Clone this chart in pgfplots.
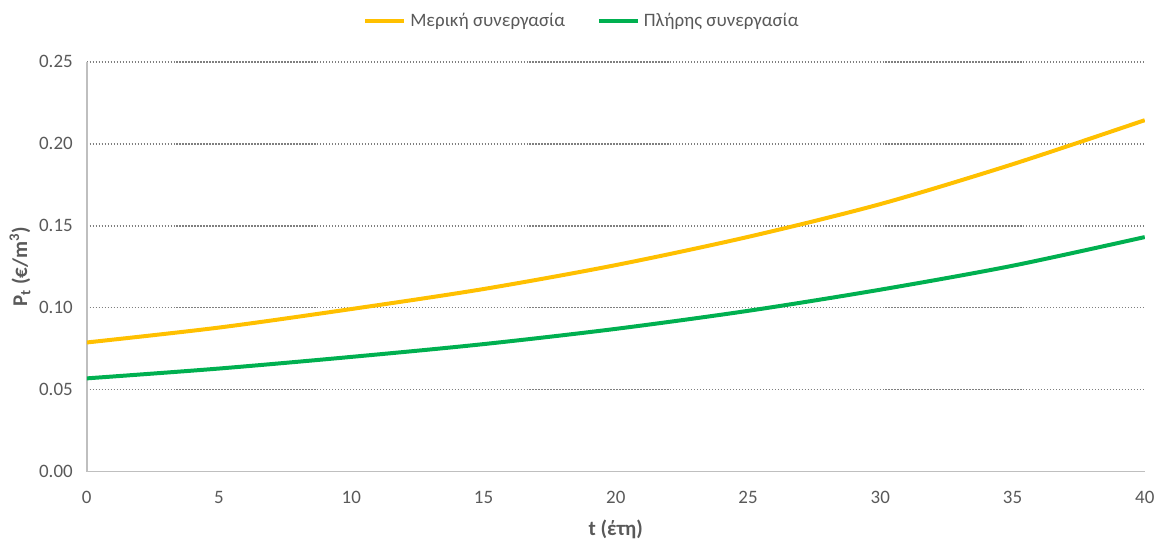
\documentclass[border=0pt]{standalone}
\usepackage{fontspec}
\setmainfont{Carlito}
\usepackage{pgfplots}
\pgfplotsset{compat=1.18}

\definecolor{partial}{HTML}{FFC000}
\definecolor{full}{HTML}{00B050}
\definecolor{ticktext}{HTML}{595959}
\definecolor{axisgray}{HTML}{BFBFBF}
\definecolor{gridgray}{HTML}{7F7F7F}

\begin{document}
\begin{tikzpicture}
\begin{axis}[
  at={(0,0)}, anchor=south west,
  scale only axis, width=530.5pt, height=205.5pt,
  xmin=0, xmax=40, ymin=0, ymax=0.25,
  xtick={0,5,10,15,20,25,30,35,40},
  ytick={0,0.05,0.10,0.15,0.20,0.25},
  axis x line*=bottom, axis y line*=left,
  axis line style={axisgray, line width=0.8pt},
  tick style={draw=none},
  ymajorgrids,
  grid style={gridgray, line width=0.75pt, dash pattern=on 0.7pt off 0.8pt},
  ticklabel style={font=\fontsize{9.5}{11}\selectfont, text=ticktext},
  /pgf/number format/assume math mode=true,
  yticklabel style={/pgf/number format/.cd, fixed, fixed zerofill, precision=2},
  xticklabel shift=6.4pt,
  yticklabel shift=3.5pt,
  xlabel={t (έτη)},
  ylabel={P\textsubscript{t} (€/m\textsuperscript{3})},
  label style={font=\bfseries\fontsize{10.5}{12}\selectfont, text=ticktext},
  xlabel style={at={(axis description cs:0.5,-0.142)}, anchor=center},
  ylabel style={at={(axis description cs:-0.0631,0.5)}, anchor=center},
  legend columns=2,
  legend style={at={(0.469,1.100)}, anchor=center, draw=none, fill=none,
    font=\fontsize{9.5}{11}\selectfont, text=ticktext,
    /tikz/every even column/.append style={column sep=14pt}},
  legend image code/.code={\draw[#1, line width=2pt] (0pt,0pt) -- (19.5pt,0pt);},
]
% Partial cooperation
\addplot[partial, line width=2pt, smooth] coordinates {
  (0,0.0788) (5,0.0879) (10,0.0992) (15,0.1114) (20,0.1260)
  (25,0.1432) (30,0.1632) (35,0.1875) (40,0.2144)
};
\addlegendentry{Μερική συνεργασία}
% Full cooperation
\addplot[full, line width=2pt, smooth] coordinates {
  (0,0.0569) (5,0.0629) (10,0.0700) (15,0.0778) (20,0.0871)
  (25,0.0981) (30,0.1110) (35,0.1256) (40,0.1431)
};
\addlegendentry{Πλήρης συνεργασία}
\end{axis}
\path[use as bounding box] (-43.5pt,-32pt) rectangle (537pt,236.5pt);
\end{tikzpicture}
\end{document}
